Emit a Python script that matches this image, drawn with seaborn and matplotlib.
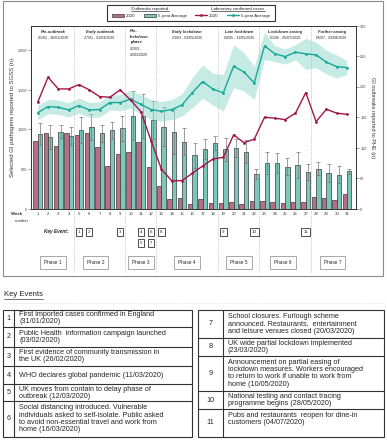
import numpy as np
import pandas as pd
import matplotlib
matplotlib.use("Agg")
import matplotlib.pyplot as plt
import seaborn as sns
from matplotlib.patches import Rectangle
from matplotlib.ticker import FuncFormatter

sns.set_theme(style="white")
plt.rcParams["font.family"] = ["Liberation Sans", "DejaVu Sans"]

# ---- data ----
weeks = list(range(1, 32))

# GI outbreaks reported to PHE (bars, right axis)
outbreaks_2020 = [112, 124, 103, 124, 122, 124, 102, 70, 90, 93, 110, 69, 38, 16, 18, 9,
                  17, 10, 10, 11, 8, 13, 13, 11, 10, 12, 11, 20, 18, 15, 24]
outbreaks_avg = [123, 118, 127, 120, 129, 134, 124, 129, 132, 153, 153, 146, 135, 127, 110, 88,
                 98, 108, 98, 100, 94, 57, 75, 75, 69, 72, 61, 66, 59, 56, 62]
outbreaks_err = [18, 20, 11, 15, 21, 21, 14, 14, 20, 40, 36, 31, 32, 37, 22, 20,
                 16, 11, 19, 15, 19, 8, 18, 16, 14, 22, 13, 11, 14, 14, 4]

# laboratory confirmed cases reported to SGSS (lines, left axis)
lab_2020 = [1342, 1656, 1509, 1509, 1564, 1497, 1413, 1405, 1497, 1371, 1225, 858, 500, 354, 357, 450,
            541, 629, 650, 931, 834, 877, 1153, 1141, 1124, 1204, 1463, 1098, 1254, 1204, 1190]
lab_avg = [1211, 1287, 1279, 1245, 1300, 1245, 1250, 1338, 1338, 1380, 1315, 1250, 1227, 1250, 1308, 1463,
           1601, 1506, 1460, 1795, 1723, 1585, 2050, 1950, 1916, 1971, 1950, 1937, 1845, 1790, 1777]
lab_avg_band = [90, 90, 90, 90, 95, 95, 95, 95, 100, 115, 120, 125, 125, 125, 140, 190,
                210, 200, 230, 270, 240, 208, 170, 100, 95, 95, 195, 160, 150, 145, 85]

phase_titles = ["Pre-outbreak", "Early outbreak", "Pre-\nlockdown\nphase", "Early lockdown",
                "Late lockdown", "Lockdown easing", "Further easing"]
phase_dates = ["01/01 - 26/01/2020", "27/01 - 01/03/2020", "02/03 -\n22/03/2020", "23/03 - 03/05/2020",
               "04/05 - 31/05/2020", "01/06 - 05/07/2020", "06/07 - 02/08/2020"]
phase_labels = ["Phase 1", "Phase 2", "Phase 3", "Phase 4", "Phase 5", "Phase 6", "Phase 7"]
phase_last_week = [4, 9, 12, 18, 22, 27]

event_numbers = [1, 2, 3, 4, 5, 6, 7, 8, 9, 10, 11]
event_weeks = [5, 6, 9, 11, 11, 12, 12, 13, 19, 22, 27]
event_rows = [0, 0, 0, 0, 1, 0, 1, 0, 0, 0, 0]
event_texts = [
    "First imported cases confirmed in England\n(31/01/2020)",
    "Public Health  information campaign launched\n(03/02/2020)",
    "First evidence of community transmission in\nthe UK (26/02/2020)",
    "WHO declares global pandemic (11/03/2020)",
    "UK moves from contain to delay phase of\noutbreak (12/03/2020)",
    "Social distancing introduced. Vulnerable\nindividuals asked to self-isolate. Public asked\n"
    "to avoid non-essential travel and work from\nhome (16/03/2020)",
    "School closures. Furlough scheme\nannounced. Restaurants,  entertainment\n"
    "and leisure venues closed (20/03/2020)",
    "UK wide partial lockdown implemented\n(23/03/2020)",
    "Announcement on partial easing of\nlockdown measures. Workers encouraged\n"
    "to return to work if unable to work from\nhome (10/05/2020)",
    "National testing and contact tracing\nprogramme begins (28/05/2020)",
    "Pubs and restaurants  reopen for dine-in\ncustomers (04/07/2020)\n",
]

PINK = "#c4627f"
TEAL = "#6fd4c5"
TEAL_LINE = "#17a898"
BAND = "#8fd8cc"
RED = "#a3164a"
DARK = "#333333"

W, H = 387, 440
fig = plt.figure(figsize=(W / 100, H / 100), dpi=100)

# overlay in pixel units for the frame, tables and loose labels
ov = fig.add_axes([0, 0, 1, 1], zorder=-1)
ov.set_xlim(0, W)
ov.set_ylim(H, 0)
ov.axis("off")

ax = fig.add_axes([31 / W, 1 - 209 / H, 325 / W, 183 / H])
ax2 = ax.twinx()
ax.set_zorder(ax2.get_zorder() + 1)
ax.patch.set_visible(False)

# bars: outbreaks
bars = pd.DataFrame({
    "week": [str(w) for w in weeks] * 2,
    "n": outbreaks_2020 + outbreaks_avg,
    "series": ["2020"] * len(weeks) + ["5-year Average"] * len(weeks),
})
sns.barplot(data=bars, x="week", y="n", hue="series", order=[str(w) for w in weeks],
            palette=[PINK, TEAL], width=0.86, edgecolor="#3a3a3a", linewidth=0.5,
            errorbar=None, legend=False, ax=ax2)
centers = [p.get_x() + p.get_width() / 2 for p in ax2.containers[1]]
ax2.errorbar(centers, outbreaks_avg, yerr=outbreaks_err, fmt="none", ecolor="#777777",
             elinewidth=0.5, capsize=1.2, capthick=0.5)

# lines: lab confirmed cases
x = np.arange(len(weeks))
lo = np.array(lab_avg) - np.array(lab_avg_band)
hi = np.array(lab_avg) + np.array(lab_avg_band)
ax.fill_between(x, lo, hi, color=BAND, alpha=0.5, lw=0, zorder=1)
sns.lineplot(x=x, y=lab_avg, ax=ax, color=TEAL_LINE, marker="o", markersize=2,
             markeredgewidth=0, linewidth=1.0, zorder=3)
line_avg = ax.lines[-1]
sns.lineplot(x=x, y=lab_2020, ax=ax, color=RED, marker="o", markersize=2,
             markeredgewidth=0, linewidth=1.0, zorder=4)
line_2020 = ax.lines[-1]

ax.set_xlim(-0.65, 30.87)
ax.set_ylim(0, 2300)
ax2.set_ylim(0, 300)
ax.set_yticks([0, 500, 1000, 1500, 2000])
ax.yaxis.set_major_formatter(FuncFormatter(lambda v, p: f"{int(v):,}"))
ax2.set_yticks(range(0, 301, 50))
ax.set_xticks(x)
ax.set_xticklabels([str(w) for w in weeks])
ax.set_xticks(np.arange(-0.5, len(weeks), 1), minor=True)
ax.tick_params(axis="x", which="major", length=0, pad=2.2, labelsize=3.1, labelcolor="#333")
ax.tick_params(axis="x", which="minor", length=1.8, width=0.4, color="#888")
ax.tick_params(axis="y", length=2, width=0.4, labelsize=2.7, pad=1, labelcolor="#444", color="#555")
ax2.tick_params(axis="y", length=2, width=0.4, labelsize=2.7, pad=1, labelcolor="#444", color="#555")
for a in (ax, ax2):
    for s in a.spines.values():
        s.set_color(DARK)
        s.set_linewidth(0.6)
ax.set_xlabel("")
ax2.set_xlabel("")
ax.set_ylabel("Selected GI pathogens reported to SGSS (n)", fontsize=4.3, color="#333", va="center")
ax.yaxis.set_label_coords(-0.058, 0.5)
ax2.set_ylabel("GI outbreaks reported to PHE (n)", fontsize=4.0, color="#333", rotation=270, va="center")
ax2.yaxis.set_label_coords(1.052, 0.5)

# phase headers
trans = ax.get_xaxis_transform()
phase_first = [1] + [w + 1 for w in phase_last_week]
phase_end = phase_last_week + [31]
box_shift = [0, -0.4, 0, 0, 0, -0.2, 0.1]
for i, (t, d) in enumerate(zip(phase_titles, phase_dates)):
    c = (phase_first[i] + phase_end[i]) / 2 - 1
    if "\n" in t:
        ax.text(phase_first[i] - 1 - 0.05, 0.982, t, transform=trans, ha="left", va="top", fontsize=2.9,
                fontweight="bold", style="italic", linespacing=1.45)
        ax.text(phase_first[i] - 1 - 0.05, 0.885, d, transform=trans, ha="left", va="top", fontsize=2.6,
                linespacing=1.55)
    else:
        ax.text(c, 0.967, t, transform=trans, ha="center", va="center", fontsize=2.9,
                fontweight="bold", style="italic")
        ax.text(c, 0.936, d, transform=trans, ha="center", va="center", fontsize=2.6)
    ax.text(c + box_shift[i], -0.290, phase_labels[i], transform=trans, ha="center", va="center",
            fontsize=3.4, color="#222",
            bbox=dict(boxstyle="square,pad=0.85", fc="white", ec="#9a9a9a", lw=0.6))

for w in phase_last_week:
    ax.axvline(w - 0.5, ymin=-0.344, ymax=1, clip_on=False, color="#a0a0a0", lw=0.5,
               ls=(0, (1, 1.5)), zorder=0)

# key event boxes
for num, wk, row in zip(event_numbers, event_weeks, event_rows):
    ax.text(wk - 1, [-0.126, -0.186][row], str(num), transform=trans, ha="center", va="center",
            fontsize=3.2, bbox=dict(boxstyle="square,pad=0.45", fc="white", ec=DARK, lw=0.6))

# loose labels
ov.text(22, 214.2, "Week", ha="right", va="center", fontsize=3.2, fontweight="bold", color="#333")
ov.text(15, 221, "number", ha="left", va="center", fontsize=3.1, color="#333")
ov.text(68, 232, "Key Event:", ha="right", va="center", fontsize=3.4, fontweight="bold", style="italic")

# outer frame of the chart
ov.add_patch(Rectangle((3, 1), 380, 275, fill=False, ec="#8c8c8c", lw=0.8))

# legend
ov.add_patch(Rectangle((107, 5), 168, 16, fill=False, ec=DARK, lw=0.8))
h1 = ov.text(150, 9.3, "Outbreaks reported", ha="center", va="center", fontsize=3.2)
h2 = ov.text(238, 9.3, "Laboratory confirmed cases", ha="center", va="center", fontsize=3.2)
fig.legend(handles=[ax2.containers[0][0], ax2.containers[1][0], line_2020, line_avg],
           labels=["2020", "5-year Average", "2020", "5-year Average"],
           ncol=4, loc="center", bbox_to_anchor=(191 / W, 1 - 16 / H), frameon=False,
           fontsize=3.2, handlelength=2.8, handleheight=0.9, handletextpad=0.4,
           columnspacing=1.8, borderpad=0)

# key events tables
tk = ov.text(4, 295, "Key Events", ha="left", va="center", fontsize=5.5)

tables = [
    (3, 14, 192, [310, 326.7, 346.7, 366, 384.3, 401, 436.7], 0),
    (198, 223, 384, [310, 337.7, 355.7, 391, 409, 436.7], 6),
]
ov.plot([3, 384], [303, 303], color="#d0d0d0", lw=0.5, ls=(0, (1, 1.5)))
for x0, xd, x1, rows, start in tables:
    ov.add_patch(Rectangle((x0, rows[0]), x1 - x0, rows[-1] - rows[0], fill=False, ec=DARK, lw=0.8))
    ov.plot([xd, xd], [rows[0], rows[-1]], color=DARK, lw=0.8)
    for yb in rows[1:-1]:
        ov.plot([x0, x1], [yb, yb], color=DARK, lw=0.8)
    for k in range(len(rows) - 1):
        yc = (rows[k] + rows[k + 1]) / 2
        i = start + k
        ov.text((x0 + xd) / 2, yc, str(event_numbers[i]), ha="center", va="center", fontsize=5.2)
        ov.text(xd + 5, yc, event_texts[i], ha="left", va="center", fontsize=5.2, linespacing=1.05)

# underline headings
fig.canvas.draw()
inv = ov.transData.inverted()
for t in (h1, h2, tk):
    bb = t.get_window_extent()
    (ax0, ay0), (ax1, ay1) = inv.transform([[bb.x0, bb.y0], [bb.x1, bb.y1]])
    ov.plot([ax0, ax1], [ay0 + 0.2, ay0 + 0.2], color="#222", lw=0.45)

fig.savefig("out.png", dpi=100)
